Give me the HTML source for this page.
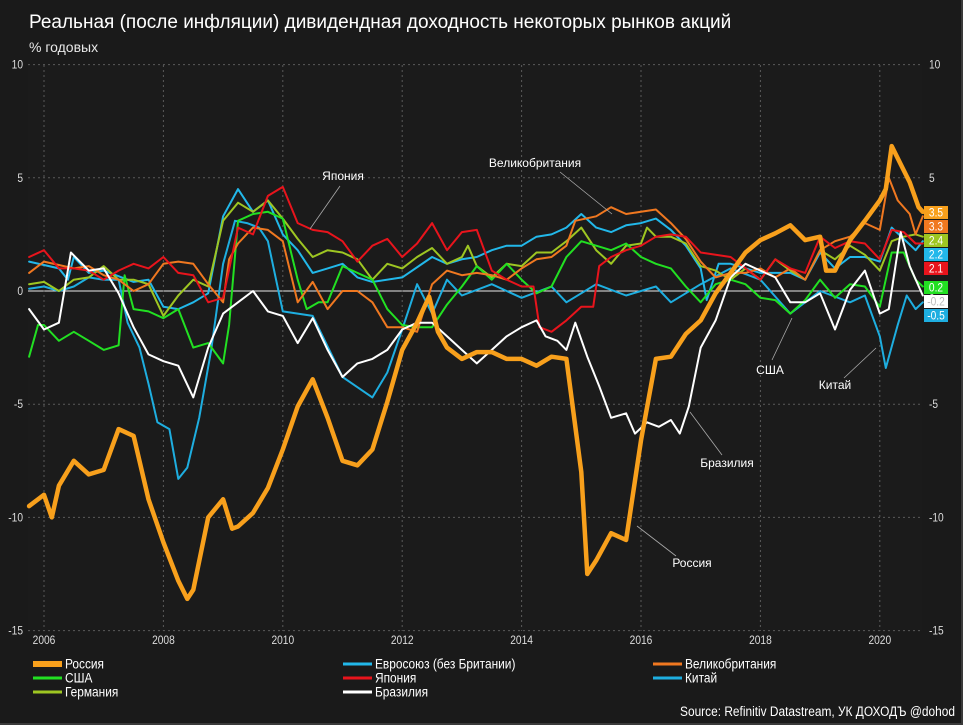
<!DOCTYPE html>
<html><head><meta charset="utf-8">
<style>
html,body{margin:0;padding:0;background:#1a1a1a;}
#wrap{position:relative;width:963px;height:725px;background:#1a1a1a;overflow:hidden;box-sizing:border-box;border-right:2px solid #3a3a3a;border-bottom:2px solid #3a3a3a;}
svg text{font-family:"Liberation Sans",sans-serif;}
</style></head>
<body>
<div id="wrap">
<svg id="chart" width="963" height="725" xmlns="http://www.w3.org/2000/svg">
<text x="29" y="28" fill="#fff" font-size="19">Реальная (после инфляции) дивидендная доходность некоторых рынков акций</text>
<text x="29" y="52" fill="#e8e8e8" font-size="14">% годовых</text>
<g id="grid"></g>
<g id="series"></g>
<g id="annot"></g>
<g id="endlabels"></g>
<g id="legend"></g>
<text transform="translate(955,716) scale(0.85,1)" text-anchor="end" fill="#fff" font-size="14">Source: Refinitiv Datastream, УК ДОХОДЪ @dohod</text>
</svg>
</div>
<script>
const yTicks=[10,5,0,-5,-10,-15];
const xTicks=[2006,2008,2010,2012,2014,2016,2018,2020];
const seriesNames=["Россия","Евросоюз (без Британии)","Великобритания","США","Япония","Китай","Германия","Бразилия"];
const endValues=["3.5","3.3","2.4","2.2","2.1","0.2","-0.2","-0.5"];

const russiaT=[2005.75,2006,2006.13,2006.25,2006.5,2006.75,2007,2007.25,2007.5,2007.75,2008,2008.25,2008.4,2008.5,2008.75,2009,2009.15,2009.25,2009.5,2009.75,2010,2010.25,2010.5,2010.75,2011,2011.25,2011.5,2011.75,2012,2012.25,2012.45,2012.6,2012.75,2013,2013.25,2013.5,2013.75,2014,2014.25,2014.5,2014.75,2015,2015.1,2015.25,2015.5,2015.75,2016,2016.25,2016.5,2016.75,2017,2017.25,2017.5,2017.75,2018,2018.25,2018.5,2018.75,2019,2019.1,2019.25,2019.5,2019.75,2020,2020.1,2020.2,2020.35,2020.5,2020.65,2020.72];
const russiaV=[-9.5,-9.0,-10.0,-8.6,-7.5,-8.1,-7.9,-6.1,-6.4,-9.2,-11.1,-12.8,-13.6,-13.2,-10.0,-9.2,-10.5,-10.4,-9.8,-8.7,-7.0,-5.1,-3.9,-5.6,-7.5,-7.7,-7.0,-4.9,-2.6,-1.4,-0.25,-1.8,-2.5,-3.0,-2.7,-2.7,-3.0,-3.0,-3.3,-2.9,-3.0,-8.0,-12.5,-11.9,-10.7,-11.0,-6.6,-3.0,-2.9,-1.9,-1.3,-0.1,0.8,1.7,2.25,2.55,2.9,2.25,2.4,0.9,0.9,2.25,3.1,4.0,4.5,6.4,5.6,4.8,3.7,3.5];

const brazilT=[2005.75,2006,2006.25,2006.45,2006.75,2007,2007.25,2007.5,2007.75,2008,2008.25,2008.5,2008.75,2009,2009.25,2009.5,2009.75,2010,2010.25,2010.5,2010.75,2011,2011.25,2011.5,2011.75,2012,2012.25,2012.5,2012.75,2013,2013.25,2013.5,2013.75,2014,2014.25,2014.4,2014.6,2014.75,2014.9,2015.1,2015.3,2015.5,2015.75,2015.9,2016.1,2016.3,2016.5,2016.65,2016.8,2017,2017.25,2017.5,2017.75,2018,2018.25,2018.5,2018.75,2019,2019.25,2019.5,2019.75,2020,2020.15,2020.35,2020.5,2020.72];
const brazilV=[-0.8,-1.7,-1.4,1.7,0.9,1.0,-0.1,-1.6,-2.8,-3.1,-3.3,-4.7,-2.5,-1.0,-0.5,0.0,-0.9,-1.1,-2.3,-1.2,-2.6,-3.8,-3.2,-3.0,-2.6,-1.7,-1.4,-1.4,-2.0,-2.6,-3.2,-2.6,-2.0,-1.6,-1.3,-2.0,-2.2,-2.6,-1.4,-2.9,-4.2,-5.6,-5.4,-6.3,-5.8,-6.0,-5.7,-6.3,-5.1,-2.5,-1.3,0.6,1.2,0.9,0.6,-0.5,-0.5,-0.1,-1.7,0.05,0.9,-1.0,-0.8,2.6,1.1,-0.2];

const chinaT=[2005.75,2006,2006.25,2006.5,2006.75,2007,2007.25,2007.4,2007.6,2007.75,2007.9,2008.1,2008.25,2008.4,2008.6,2008.8,2009,2009.2,2009.4,2009.6,2009.75,2010,2010.5,2011,2011.5,2011.75,2012,2012.25,2012.5,2012.75,2013,2013.5,2014,2014.5,2014.75,2015.25,2015.75,2016.25,2016.5,2017,2017.5,2018,2018.5,2019,2019.5,2019.75,2020,2020.1,2020.3,2020.45,2020.6,2020.72];
const chinaV=[0.1,0.2,0.0,0.2,0.6,0.5,0.5,-1.4,-2.5,-4.1,-5.8,-6.1,-8.3,-7.8,-5.6,-2.6,1.2,3.1,3.0,2.8,2.2,-0.9,-1.1,-3.8,-4.7,-3.6,-1.7,0.3,-1.0,0.5,-0.2,0.3,-0.3,0.2,-0.5,0.3,-0.2,0.2,-0.5,0.3,1.0,0.5,-1.0,0.0,-0.5,-0.2,-2.0,-3.4,-1.5,-0.2,-0.8,-0.5];

const euT=[2005.75,2006.25,2006.4,2006.5,2006.75,2007,2007.5,2007.75,2008,2008.25,2008.5,2008.75,2009,2009.25,2009.5,2009.75,2010,2010.25,2010.5,2010.75,2011,2011.25,2011.5,2012,2012.5,2012.75,2013,2013.25,2013.5,2013.75,2014,2014.25,2014.5,2014.75,2015,2015.25,2015.5,2015.75,2016,2016.25,2016.5,2016.75,2017,2017.1,2017.3,2017.5,2018,2018.5,2018.75,2019,2019.25,2019.5,2019.75,2020,2020.2,2020.4,2020.6,2020.72];
const euV=[1.3,1.0,0.5,1.5,0.8,0.9,0.4,0.5,-0.7,-0.8,-0.5,-0.1,3.3,4.5,3.5,4.0,2.5,1.8,0.8,1.0,1.2,0.6,0.4,0.6,1.5,1.2,1.4,1.5,1.8,2.0,2.0,2.4,2.5,2.8,3.4,2.8,2.6,2.9,3.0,3.2,2.7,2.0,1.0,-0.4,1.2,1.2,0.8,0.8,0.5,1.7,1.0,1.5,1.5,1.3,2.8,2.3,1.8,2.2];

const ukT=[2005.75,2006,2006.5,2006.75,2007,2007.25,2007.5,2007.75,2008,2008.25,2008.5,2008.75,2009,2009.1,2009.25,2009.5,2009.75,2010,2010.25,2010.5,2010.75,2011,2011.25,2011.5,2011.75,2012,2012.25,2012.5,2012.75,2013,2013.25,2013.5,2013.75,2014,2014.25,2014.5,2014.75,2014.9,2015.25,2015.5,2015.75,2016,2016.25,2016.5,2016.75,2017,2017.25,2017.5,2017.75,2018,2018.25,2018.5,2018.75,2019,2019.25,2019.5,2019.75,2020,2020.15,2020.3,2020.5,2020.6,2020.72];
const ukV=[0.8,1.3,1.0,1.1,0.7,0.5,0.0,0.3,1.2,1.3,1.2,0.3,-0.5,1.4,2.1,2.8,2.7,2.2,-0.5,0.4,-0.8,0.0,0.0,-0.5,-1.6,-1.6,-1.8,0.3,0.9,0.7,0.8,0.7,0.5,1.0,1.4,1.5,2.0,3.1,3.3,3.7,3.4,3.5,3.6,3.0,2.3,1.3,0.6,0.8,0.8,1.0,0.6,1.0,0.5,1.8,2.2,2.4,3.0,2.7,5.0,4.0,3.4,2.5,3.3];

const japanT=[2005.75,2006,2006.25,2006.5,2006.75,2007,2007.25,2007.5,2007.75,2008,2008.25,2008.5,2008.75,2009,2009.25,2009.5,2009.75,2010,2010.25,2010.5,2010.75,2011,2011.25,2011.5,2011.75,2012,2012.25,2012.5,2012.75,2013,2013.25,2013.5,2013.75,2014,2014.2,2014.3,2014.5,2014.75,2015,2015.2,2015.3,2015.5,2015.75,2016,2016.25,2016.5,2016.75,2017,2017.5,2018,2018.25,2018.5,2018.75,2019,2019.25,2019.5,2019.75,2020,2020.2,2020.4,2020.6,2020.72];
const japanV=[1.5,1.8,1.0,1.0,0.9,0.5,0.9,1.2,1.0,1.5,0.8,0.7,-0.5,-0.3,2.8,2.5,4.2,4.6,3.0,2.7,2.6,2.2,1.3,2.0,2.3,1.5,2.1,3.0,1.8,2.6,2.7,0.9,0.5,0.2,0.2,-1.6,-1.8,-1.3,-0.7,-0.7,1.1,1.5,1.8,2.0,2.4,2.5,2.4,1.7,1.5,0.5,1.4,1.0,0.8,2.4,1.9,2.2,2.1,1.4,2.7,2.6,2.1,2.1];

const usaT=[2005.75,2005.9,2006,2006.25,2006.5,2006.75,2007,2007.25,2007.35,2007.5,2007.75,2008,2008.25,2008.5,2008.75,2009,2009.1,2009.25,2009.5,2009.75,2010,2010.25,2010.4,2010.6,2010.75,2011,2011.25,2011.5,2011.75,2012,2012.25,2012.5,2012.75,2013,2013.25,2013.5,2013.75,2014,2014.25,2014.5,2014.75,2015,2015.25,2015.5,2015.75,2016,2016.25,2016.5,2016.75,2017,2017.25,2017.5,2017.75,2018,2018.25,2018.5,2018.75,2019,2019.25,2019.5,2019.75,2020,2020.2,2020.4,2020.6,2020.72];
const usaV=[-2.9,-1.5,-1.5,-2.2,-1.8,-2.2,-2.6,-2.4,0.7,-0.8,-0.9,-1.2,-0.8,-2.5,-2.3,-3.2,-1.5,3.1,3.4,3.5,3.2,0.5,-0.8,-0.5,-0.5,1.1,0.8,0.5,-0.8,-1.5,-1.6,-1.6,-0.6,0.2,1.1,0.5,1.2,0.5,-0.1,0.2,1.5,2.2,2.0,1.8,2.1,1.5,1.2,1.0,0.2,-0.5,0.3,0.5,0.3,-0.3,-0.4,-1.0,-0.4,0.5,-0.3,0.3,0.2,-0.7,1.7,1.7,0.5,0.2];

const germanyT=[2005.75,2006,2006.25,2006.5,2006.75,2007,2007.25,2007.5,2007.75,2008,2008.25,2008.5,2008.75,2009,2009.25,2009.5,2009.75,2010,2010.25,2010.5,2010.75,2011,2011.25,2011.5,2011.75,2012,2012.25,2012.5,2012.75,2013,2013.1,2013.25,2013.5,2013.75,2014,2014.25,2014.5,2014.75,2015,2015.25,2015.5,2015.75,2016,2016.1,2016.25,2016.5,2016.75,2017,2017.25,2017.5,2017.75,2018,2018.25,2018.5,2018.75,2019,2019.25,2019.5,2019.75,2020,2020.2,2020.4,2020.6,2020.72];
const germanyV=[0.3,0.4,0.0,0.5,0.6,1.1,0.5,0.5,0.3,-1.1,-0.2,0.5,0.2,3.1,3.9,3.5,4.0,3.2,2.3,1.5,1.8,1.7,1.4,0.5,1.2,1.0,1.5,1.9,1.2,1.5,2.0,1.1,0.6,1.2,1.1,1.7,1.7,2.2,2.8,1.8,1.2,2.0,2.1,2.8,2.4,2.4,2.1,1.1,0.9,0.5,1.0,0.5,1.4,0.9,0.5,1.8,1.4,2.0,1.6,0.9,2.2,2.4,2.5,2.4];

const NS="http://www.w3.org/2000/svg";
const L=28,R=922,T=65,B=631;
function xs(t){return 44+(t-2006)*59.7;}
function ys(v){return 291-v*22.64;}
function mk(tag,attrs,parent){const e=document.createElementNS(NS,tag);for(const k in attrs)e.setAttribute(k,attrs[k]);parent.appendChild(e);return e;}
function ctext(x,y,str,size,fill,anchor,parent){
  const t=mk('text',{transform:'translate('+x+','+y+') scale(0.85,1)',fill:fill,"font-size":size,"text-anchor":anchor},parent);
  t.textContent=str;return t;
}

const grid=document.getElementById('grid');
mk('rect',{x:L,y:T,width:R-L,height:B-T,fill:'#1b1b1b'},grid);
yTicks.forEach(v=>{
  const ln=mk('line',{x1:L,x2:R,y1:ys(v),y2:ys(v),stroke:v===0?'#e8e8e8':'#5a5a5a',"stroke-width":1,"stroke-dasharray":v===0?'':'2,3'},grid);
  
  
  const tl=ctext(L-5,ys(v)+4,String(v),12,'#ddd','end',grid);
  
  
  const tr=ctext(R+7,ys(v)+4,String(v),12,'#ddd','start',grid);
  
  
});
xTicks.forEach(t=>{
  const ln=mk('line',{x1:xs(t),x2:xs(t),y1:T,y2:B,stroke:'#5a5a5a',"stroke-width":1,"stroke-dasharray":'2,3'},grid);
  
  
  const tx=ctext(xs(t),B+13,String(t),12,'#ddd','middle',grid);
  
  
});

const sg=document.getElementById('series');
function line(T_,V_,color,w,name){
  const d=T_.map((t,i)=>(i?'L':'M')+xs(t).toFixed(1)+','+ys(V_[i]).toFixed(1)).join(' ');
  const p=mk('path',{d:d,fill:'none',stroke:color,"stroke-width":w,"stroke-linejoin":"round","stroke-linecap":"round"},sg);
  
  
}
line(chinaT,chinaV,'#1eaee0',2,'line-china');
line(euT,euV,'#22b8ea',2,'line-eu');
line(germanyT,germanyV,'#9ec622',2,'line-germany');
line(usaT,usaV,'#22e022',2,'line-usa');
line(ukT,ukV,'#f07820',2,'line-uk');
line(japanT,japanV,'#e8141c',2,'line-japan');
line(brazilT,brazilV,'#ffffff',2,'line-brazil');
line(russiaT,russiaV,'#f8a01c',4.5,'line-russia');

const an=document.getElementById('annot');
const anns=[["Япония",343,180,340,186,310,229],["Великобритания",535,167,560,172,612,214],["США",770,374,772,360,792,318],["Китай",835,389,844,378,876,348],["Бразилия",727,467,722,455,690,412],["Россия",692,567,676,556,637,526]];
anns.forEach(a=>{
  const ln=mk('line',{x1:a[3],y1:a[4],x2:a[5],y2:a[6],stroke:'#aaa',"stroke-width":0.8},an);
  
  
  const t=mk('text',{x:a[1],y:a[2],fill:'#fff',"font-size":12,"text-anchor":"middle"},an);t.textContent=a[0];
  
  
});

const el=document.getElementById('endlabels');
const boxColors=['#f8a01c','#f07820','#9ec622','#22b8ea','#e8141c','#22e022','#ffffff','#1eaee0'];
const boxY=[206,220,234,248,262,281,295,309];
endValues.forEach((v,i)=>{
  const r=mk('rect',{x:924,y:boxY[i],width:24,height:13,fill:boxColors[i]},el);
  
  
  const t=ctext(936,boxY[i]+10.5,v,12,i===6?'#bbb':'#fff','middle',el);
  
  
});

const lg=document.getElementById('legend');
const legColors=['#f8a01c','#22b8ea','#f07820','#22e022','#e8141c','#1eaee0','#9ec622','#ffffff'];
const colX=[33,343,653],rowY=[664,678,692];
seriesNames.forEach((nm,k)=>{
  const cx=colX[k%3],cy=rowY[Math.floor(k/3)];
  const sw=mk('rect',{x:cx,y:cy-(k===0?3:1.5),width:29,height:k===0?6:3,fill:legColors[k]},lg);
  
  
  const t=ctext(cx+32,cy+4.5,nm,14,'#fff','start',lg);
  
  
});
</script>
</body></html>
